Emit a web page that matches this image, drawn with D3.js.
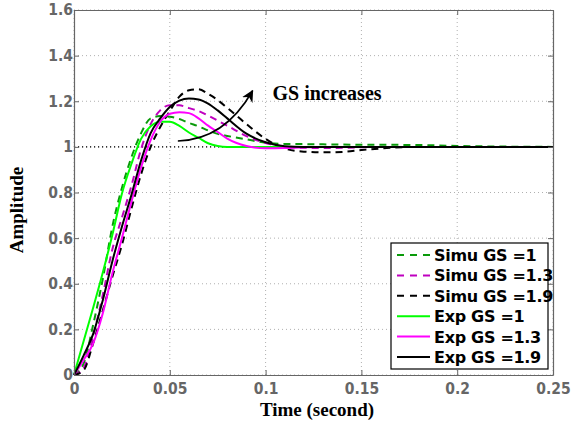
<!DOCTYPE html>
<html>
<head>
<meta charset="utf-8">
<script src="https://cdn.jsdelivr.net/npm/d3@7"></script>
<style>
  html, body { margin: 0; padding: 0; background: #fff; }
  svg { display: block; }
</style>
</head>
<body>
<div id="chart"></div>
<script>
// ---------------- data ----------------
const time = [0, 0.005, 0.01, 0.015, 0.02, 0.025, 0.03, 0.035, 0.04, 0.045, 0.05, 0.055, 0.06, 0.065,
              0.07, 0.075, 0.08, 0.09, 0.1, 0.11, 0.12, 0.13, 0.14, 0.15, 0.16, 0.18, 0.2, 0.25];

const simuGS1  = [0, 0.05, 0.22, 0.42, 0.65, 0.82, 0.955, 1.06, 1.125, 1.135, 1.132, 1.122, 1.105, 1.09,
                  1.072, 1.057, 1.048, 1.033, 1.018, 1.013, 1.012, 1.011, 1.01, 1.009, 1.009, 1.008, 1.004, 1.0];
const simuGS13 = [0, 0.03, 0.17, 0.35, 0.55, 0.69, 0.83, 0.99, 1.1, 1.16, 1.183, 1.182, 1.17, 1.157,
                  1.137, 1.115, 1.093, 1.047, 1.017, 1.001, 0.996, 0.995, 0.996, 0.998, 1.0, 1.0, 1.0, 1.0];
const simuGS19 = [0, 0.02, 0.139, 0.282, 0.43, 0.57, 0.73, 0.88, 1.0, 1.087, 1.157, 1.22, 1.248, 1.253,
                  1.232, 1.205, 1.171, 1.1, 1.035, 0.993, 0.979, 0.976, 0.978, 0.986, 0.993, 1.0, 1.0, 1.0];
const expGS1   = [0, 0.148, 0.295, 0.448, 0.614, 0.795, 0.926, 1.035, 1.09, 1.11, 1.11, 1.092, 1.063, 1.04,
                  1.016, 1.004, 1.0, 1.0, 1.0, 1.0, 1.0, 1.0, 1.0, 1.0, 1.0, 1.0, 1.0, 1.0];
const expGS13  = [0, 0.066, 0.139, 0.27, 0.445, 0.6, 0.76, 0.91, 1.03, 1.11, 1.145, 1.152, 1.148, 1.125,
                  1.093, 1.065, 1.036, 1.004, 0.994, 0.995, 0.998, 1.0, 1.0, 1.0, 1.0, 1.0, 1.0, 1.0];
const expGS19  = [0, 0.085, 0.18, 0.327, 0.498, 0.65, 0.79, 0.94, 1.06, 1.125, 1.175, 1.203, 1.212, 1.208,
                  1.19, 1.16, 1.125, 1.058, 1.02, 1.003, 1.0, 1.0, 1.0, 1.0, 1.0, 1.0, 1.0, 1.0];

const seriesNames = ["Simu GS =1", "Simu GS =1.3", "Simu GS =1.9", "Exp GS =1", "Exp GS =1.3", "Exp GS =1.9"];
const seriesValues = [simuGS1, simuGS13, simuGS19, expGS1, expGS13, expGS19];

const xTicks = [0, 0.05, 0.1, 0.15, 0.2, 0.25];
const xTickLabels = ["0", "0.05", "0.1", "0.15", "0.2", "0.25"];
const yTicks = [0, 0.2, 0.4, 0.6, 0.8, 1, 1.2, 1.4, 1.6];
const yTickLabels = ["0", "0.2", "0.4", "0.6", "0.8", "1", "1.2", "1.4", "1.6"];
const referenceLevel = 1;

const xLabel = "Time (second)";
const yLabel = "Amplitude";
const annotationText = "GS increases";
// arrow annotation in data coordinates: start, control, end
const arrowPts = [[0.0542, 1.026], [0.0786, 1.031], [0.0932, 1.246]];
const annotationPos = [0.1036, 1.206];

// ---------------- styles ----------------
const colors = ["#0a9a0a", "#bf00bf", "#000000", "#00ff00", "#ff00ff", "#000000"];
const dashed = [true, true, true, false, false, false];

const W = 587, H = 428;
const margin = { left: 74, top: 10, right: W - 553, bottom: H - 375 };
const pw = W - margin.left - margin.right;
const ph = H - margin.top - margin.bottom;

const svg = d3.select("#chart").append("svg").attr("width", W).attr("height", H);
svg.append("rect").attr("width", W).attr("height", H).attr("fill", "#fff");

const x = d3.scaleLinear().domain([0, 0.25]).range([margin.left, margin.left + pw]);
const y = d3.scaleLinear().domain([0, 1.6]).range([margin.top + ph, margin.top]);

const gray = "#666666";
const tickFont = "'DejaVu Sans Condensed', 'DejaVu Sans', sans-serif";
const legendFont = "'DejaVu Sans', sans-serif";

// grid
const grid = svg.append("g");
grid.selectAll("line.vx").data(xTicks).join("line")
  .attr("x1", d => x(d)).attr("x2", d => x(d))
  .attr("y1", y(0)).attr("y2", y(1.6))
  .attr("stroke", "#b0b0b0").attr("stroke-width", 1).attr("stroke-dasharray", "1,3");
grid.selectAll("line.hy").data(yTicks).join("line")
  .attr("x1", x(0)).attr("x2", x(0.25))
  .attr("y1", d => y(d)).attr("y2", d => y(d))
  .attr("stroke", "#b0b0b0").attr("stroke-width", 1).attr("stroke-dasharray", "1,3");

// reference line at 1
svg.append("line")
  .attr("x1", x(0)).attr("x2", x(0.25))
  .attr("y1", y(referenceLevel)).attr("y2", y(referenceLevel))
  .attr("stroke", "#000").attr("stroke-width", 1.2).attr("stroke-dasharray", "1.2,2.8");

// curves
const line = d3.line().x(d => x(d[0])).y(d => y(d[1])).curve(d3.curveMonotoneX);
const plotG = svg.append("g");
seriesValues.forEach((vals, i) => {
  const pts = time.map((t, k) => [t, vals[k]]);
  plotG.append("path")
    .attr("d", line(pts))
    .attr("fill", "none")
    .attr("stroke", colors[i])
    .attr("stroke-width", 2)
    .attr("stroke-dasharray", dashed[i] ? "7,5" : null)
    .attr("stroke-linejoin", "round");
});

// axes (ticks inside, MATLAB style)
function styleAxis(g, showLabels) {
  g.select(".domain").attr("stroke", gray).attr("stroke-width", 1.2);
  g.selectAll(".tick line").attr("stroke", gray).attr("stroke-width", 1);
  g.selectAll(".tick text")
    .attr("fill", gray)
    .attr("font-family", tickFont)
    .style("font-stretch", "condensed")
    .attr("font-weight", "bold")
    .attr("font-size", "15.5px")
    .style("display", showLabels ? null : "none");
}
const yAxis = svg.append("g").attr("transform", `translate(${margin.left},0)`)
  .call(d3.axisLeft(y).tickValues(yTicks).tickFormat((d, i) => yTickLabels[i]).tickSize(-5).tickSizeOuter(0).tickPadding(1));
styleAxis(yAxis, true);
const xAxis = svg.append("g").attr("transform", `translate(0,${margin.top + ph})`)
  .call(d3.axisBottom(x).tickValues(xTicks).tickFormat((d, i) => xTickLabels[i]).tickSize(-5).tickSizeOuter(0).tickPadding(8));
styleAxis(xAxis, true);
const yAxisR = svg.append("g").attr("transform", `translate(${margin.left + pw},0)`)
  .call(d3.axisRight(y).tickValues(yTicks).tickSize(-5).tickSizeOuter(0));
styleAxis(yAxisR, false);
const xAxisT = svg.append("g").attr("transform", `translate(0,${margin.top})`)
  .call(d3.axisTop(x).tickValues(xTicks).tickSize(-5).tickSizeOuter(0));
styleAxis(xAxisT, false);

// axis labels
svg.append("text")
  .attr("x", 317).attr("y", 416)
  .attr("text-anchor", "middle")
  .attr("font-family", "'Liberation Serif', 'Times New Roman', serif")
  .attr("font-weight", "bold").attr("font-size", "19px")
  .attr("fill", "#000")
  .text(xLabel);
svg.append("text")
  .attr("transform", "translate(23,210) rotate(-90)")
  .attr("text-anchor", "middle")
  .attr("font-family", "'Liberation Serif', 'Times New Roman', serif")
  .attr("font-weight", "bold").attr("font-size", "19px")
  .attr("fill", "#000")
  .text(yLabel);

// annotation arrow
const defs = svg.append("defs");
defs.append("marker")
  .attr("id", "arrowhead").attr("viewBox", "0 0 10 10")
  .attr("refX", 9).attr("refY", 5)
  .attr("markerWidth", 12).attr("markerHeight", 12)
  .attr("markerUnits", "userSpaceOnUse")
  .attr("orient", "auto")
  .append("path").attr("d", "M0,0 L10,5 L0,10 L3,5 Z").attr("fill", "#000");
const [p0, pc, p1] = arrowPts;
svg.append("path")
  .attr("d", `M${x(p0[0])},${y(p0[1])} Q${x(pc[0])},${y(pc[1])} ${x(p1[0])},${y(p1[1])}`)
  .attr("fill", "none").attr("stroke", "#000").attr("stroke-width", 1.6)
  .attr("marker-end", "url(#arrowhead)");
svg.append("text")
  .attr("x", x(annotationPos[0])).attr("y", y(annotationPos[1]))
  .attr("font-family", "'Liberation Serif', 'Times New Roman', serif")
  .attr("font-weight", "bold").attr("font-size", "20px")
  .attr("fill", "#000")
  .text(annotationText);

// legend
const lg = svg.append("g");
const lx = 391, ly = 243, lw = 157, lh = 126;
lg.append("rect").attr("x", lx).attr("y", ly).attr("width", lw).attr("height", lh)
  .attr("fill", "#fff").attr("stroke", "#000").attr("stroke-width", 1.2);
seriesNames.forEach((name, i) => {
  const yy = ly + 12 + i * 20.4;
  lg.append("line")
    .attr("x1", lx + 6).attr("x2", lx + 39)
    .attr("y1", yy).attr("y2", yy)
    .attr("stroke", colors[i]).attr("stroke-width", 2)
    .attr("stroke-dasharray", dashed[i] ? "7,6" : null);
  lg.append("text")
    .attr("x", lx + 43).attr("y", yy + 6)
    .attr("font-family", legendFont)
    .attr("font-weight", "bold").attr("font-size", "16px")
    .attr("letter-spacing", "-0.3px")
    .attr("fill", "#000")
    .text(name);
});
</script>
</body>
</html>
